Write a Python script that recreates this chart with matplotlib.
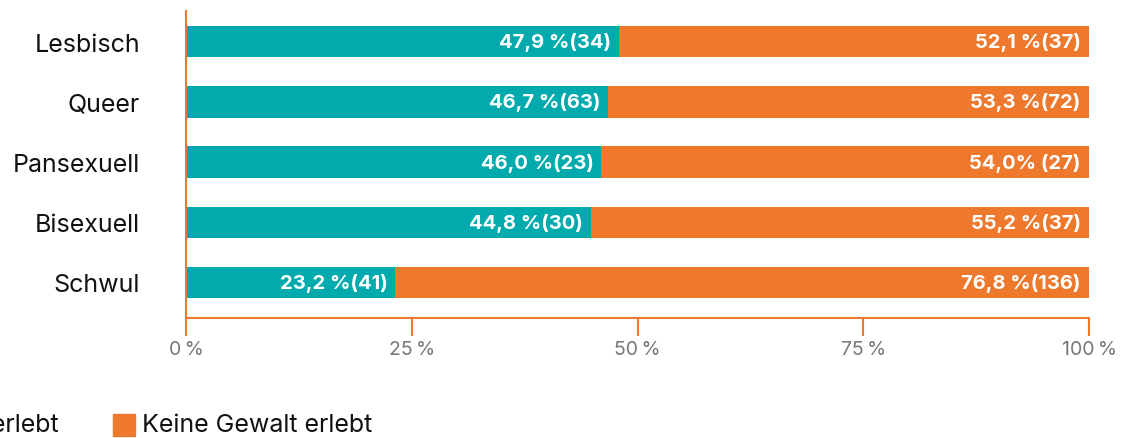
import matplotlib.pyplot as plt
from matplotlib.patches import Rectangle

plt.rcParams['font.family'] = ['Inter', 'DejaVu Sans']

categories = ['Schwul', 'Bisexuell', 'Pansexuell', 'Queer', 'Lesbisch']
gewalt = [23.2, 44.8, 46.0, 46.7, 47.9]
keine = [76.8, 55.2, 54.0, 53.3, 52.1]
gewalt_labels = ['23,2 %(41)', '44,8 %(30)', '46,0 %(23)', '46,7 %(63)', '47,9 %(34)']
keine_labels = ['76,8 %(136)', '55,2 %(37)', '54,0% (27)', '53,3 %(72)', '52,1 %(37)']
xticks = [0, 25, 50, 75, 100]
xtick_labels = ['0\u2009%', '25\u2009%', '50\u2009%', '75\u2009%', '100\u2009%']
series_names = ['Gewalt erlebt', 'Keine Gewalt erlebt']

teal = '#00AAAD'
orange = '#EE782C'

fig = plt.figure(figsize=(11.25, 4.39), dpi=100)
ax = fig.add_axes([186 / 1125, 1 - 319 / 439, (1089 - 186) / 1125, (319 - 12) / 439])

ypos = range(len(categories))
ax.barh(ypos, gewalt, height=0.52, color=teal)
ax.barh(ypos, keine, left=gewalt, height=0.52, color=orange)

# labels rechtsbündig am Ende jedes Segments
for i in ypos:
    ax.annotate(gewalt_labels[i], (gewalt[i], i), xytext=(-5.5, 0), textcoords='offset points',
                ha='right', va='center', color='white', fontsize=14.5, fontweight='bold')
    ax.annotate(keine_labels[i], (gewalt[i] + keine[i], i), xytext=(-6, 0), textcoords='offset points',
                ha='right', va='center', color='white', fontsize=14.5, fontweight='bold')

ax.set_xlim(0, 100)
ax.set_ylim(-0.59, 4.51)
ax.set_yticks(list(ypos))
ax.set_yticklabels(categories, fontsize=18, color='#111111')
ax.tick_params(axis='y', length=0, pad=33)
ax.set_xticks(xticks)
ax.set_xticklabels(xtick_labels, fontsize=14, color='#777777')
ax.tick_params(axis='x', length=13, width=1.5, color=orange, pad=3)

for s in ['top', 'right']:
    ax.spines[s].set_visible(False)
for s in ['left', 'bottom']:
    ax.spines[s].set_color(orange)
    ax.spines[s].set_linewidth(1.5)

# Legende (links abgeschnitten wie im Original)
fig.patches.append(Rectangle((-127 / 1125, 1 - 437 / 439), 22 / 1125, 22 / 439,
                             transform=fig.transFigure, color=teal, figure=fig))
fig.text(-98 / 1125, 1 - 426 / 439, series_names[0], fontsize=18, va='center', color='#111111')
fig.patches.append(Rectangle((113 / 1125, 1 - 437 / 439), 22 / 1125, 22 / 439,
                             transform=fig.transFigure, color=orange, figure=fig))
fig.text(142 / 1125, 1 - 426 / 439, series_names[1], fontsize=18, va='center', color='#111111')

fig.savefig('out.png', dpi=100)
